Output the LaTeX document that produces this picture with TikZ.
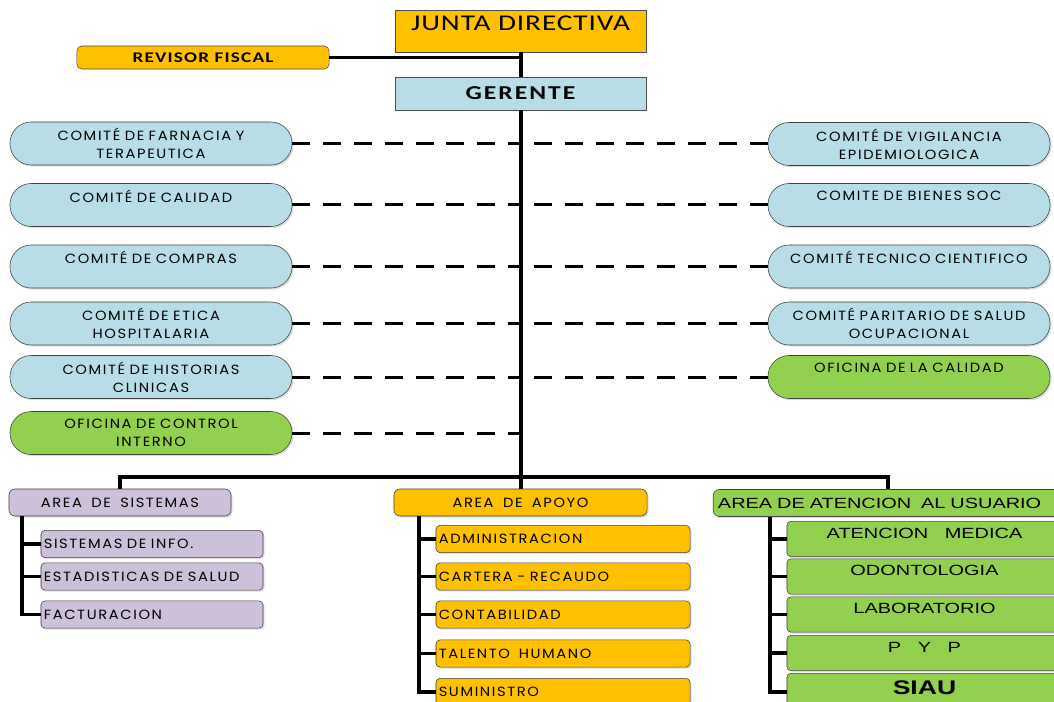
\documentclass[tikz,border=0pt]{standalone}
\usepackage{fontspec}
\setmainfont{Poppins}[FakeStretch=1.1, LetterSpace=12, WordSpace=1.7]
\newfontfamily\arialfont{Liberation Sans}[FakeStretch=1.35]
\newfontfamily\calfont{Carlito}[FakeStretch=1.3]
\usetikzlibrary{shadows}

\definecolor{naranja}{HTML}{FFC000}
\definecolor{celeste}{HTML}{B7DEE8}
\definecolor{verde}{HTML}{92D050}
\definecolor{lila}{HTML}{CCC0DA}

\begin{document}
\begin{tikzpicture}
    [x=0.025cm, y=-0.025cm,
    % Boxes on top
    junta/.style={rectangle, draw=black!70, fill=naranja, minimum width=6.275cm, minimum height=1.05cm, font=\calfont\fontsize{16}{18}\selectfont\addfontfeatures{LetterSpace=4}, text height=0.4cm, text depth=0.4cm},
    gerencia/.style={rectangle, draw=black!70, fill=celeste, minimum width=6.275cm, minimum height=0.825cm, font=\calfont\bfseries\fontsize{14}{16}\selectfont\addfontfeatures{LetterSpace=10}},
    revisor/.style={rectangle, draw=black!70, fill=naranja, rounded corners=0.12cm, minimum width=6.3cm, minimum height=0.575cm, font=\calfont\bfseries\fontsize{10.5}{12}\selectfont\addfontfeatures{LetterSpace=8}},
    % Committees and offices
    comite/.style={rectangle, draw=black!75, fill=celeste, rounded corners=0.53cm, minimum width=7.05cm, minimum height=1.075cm, align=center, text width=6.8cm, font=\fontsize{9.5}{13}\selectfont, drop shadow={opacity=0.25, shadow xshift=0.04cm, shadow yshift=-0.04cm}},
    oficina/.style={comite, fill=verde},
    % Areas
    area/.style={rectangle, draw=black!75, rounded corners=0.15cm, minimum height=0.675cm, font=\fontsize{9.5}{11}\selectfont, drop shadow={opacity=0.25, shadow xshift=0.04cm, shadow yshift=-0.04cm}},
    subarea/.style={area, rounded corners=0.1cm, minimum height=0.68cm, align=left, inner xsep=0.07cm},
    subverde/.style={area, fill=verde, rounded corners=0.1cm, minimum width=6.875cm, minimum height=0.7cm, font=\arialfont\fontsize{10.5}{12}\selectfont, text height=0.3cm, text depth=0.35cm},
    trunk/.style={draw, line width=0.1cm},
    branch/.style={draw, line width=0.09cm},
    dashline/.style={draw, line width=0.075cm, dash pattern=on 0.45cm off 0.32cm}]

    \clip (0,0) rectangle (1054,702);

    % Board, fiscal and manager
    \node [junta] (junta) at (520.5,31) {JUNTA DIRECTIVA};
    \node [revisor] (revisor) at (203,57.5) {REVISOR FISCAL};
    \node [gerencia] (gerente) at (520.5,93.5) {GERENTE};

    % Committees on the left
    \node [comite] (cfarmacia) at (151,143.5) {COMITÉ DE FARNACIA Y\\TERAPEUTICA};
    \node [comite] (ccalidad) at (151,205) {COMITÉ DE CALIDAD\\\mbox{}};
    \node [comite] (ccompras) at (151,266.5) {COMITÉ DE COMPRAS\\\mbox{}};
    \node [comite] (cetica) at (151,323.5) {COMITÉ DE ETICA\\HOSPITALARIA};
    \node [comite] (chistorias) at (151,377) {COMITÉ DE HISTORIAS\\CLINICAS};
    \node [oficina] (ocontrol) at (151,433) {OFICINA DE CONTROL\\INTERNO};

    % Committees on the right
    \node [comite] (cvigilancia) at (909,144) {COMITÉ DE VIGILANCIA\\EPIDEMIOLOGICA};
    \node [comite] (cbienes) at (909,205) {COMITE DE BIENES SOC\\\mbox{}};
    \node [comite] (ctecnico) at (909,266.5) {COMITÉ TECNICO CIENTIFICO\\\mbox{}};
    \node [comite] (cparitario) at (909,323.5) {COMITÉ PARITARIO DE SALUD\\OCUPACIONAL};
    \node [oficina] (ocalidad) at (909,377) {OFICINA DE LA CALIDAD\\\mbox{}};

    % Areas
    \node [area, fill=lila, minimum width=5.55cm] (asistemas) at (120,502.5) {AREA DE SISTEMAS};
    \node [area, fill=naranja, minimum width=6.325cm] (aapoyo) at (520.5,502.5) {AREA DE APOYO};
    \node [area, fill=verde, minimum width=8.7cm, align=left, text width=8.5cm, font=\arialfont\fontsize{10.5}{12}\selectfont] (aatencion) at (888,503) {AREA DE ATENCION\ \ AL USUARIO};

    % Sistemas
    \node [subarea, fill=lila, text width=5.41cm] (sinfo) at (152,544) {SISTEMAS DE INFO.};
    \node [subarea, fill=lila, text width=5.41cm] (sestad) at (152,576.5) {ESTADISTICAS DE SALUD};
    \node [subarea, fill=lila, text width=5.41cm] (sfact) at (152,614.5) {FACTURACION};

    % Apoyo
    \node [subarea, fill=naranja, text width=6.21cm] (padmin) at (563,539) {ADMINISTRACION};
    \node [subarea, fill=naranja, text width=6.21cm] (pcartera) at (563,576.5) {CARTERA - RECAUDO};
    \node [subarea, fill=naranja, text width=6.21cm] (pconta) at (563,614.5) {CONTABILIDAD};
    \node [subarea, fill=naranja, text width=6.21cm] (ptalento) at (563,653.5) {TALENTO\ \ HUMANO};
    \node [subarea, fill=naranja, text width=6.21cm] (psumin) at (563,692) {SUMINISTRO};

    % Atencion al usuario
    \node [subverde] (umedica) at (924.5,539) {ATENCION\ \ \ MEDICA};
    \node [subverde] (uodonto) at (924.5,576.5) {ODONTOLOGIA};
    \node [subverde] (ulab) at (924.5,614.5) {LABORATORIO};
    \node [subverde] (upyp) at (924.5,653) {P\ \ \ Y\ \ \ P};
    \node [subverde, font=\arialfont\bfseries\fontsize{14}{16}\selectfont, text height=0.4cm, text depth=0.3cm] (usiau) at (924.5,692) {SIAU};

    % Main lines
    \coordinate (bus) at (519,477);
    \coordinate (sisbar) at (22,516);
    \coordinate (apobar) at (419,516);
    \coordinate (atebar) at (770,517);
    \draw [branch, line width=0.07cm] (revisor.east) -- (revisor.east -| junta.south);
    \draw [trunk] (junta.south) -- (gerente.north);
    \draw [trunk] (gerente.south) -- (aapoyo.north);
    \draw [trunk, line width=0.08cm] (asistemas.north) -- (asistemas.north |- bus) -| (aatencion.north);

    % Dashed links
    \foreach \com in {cfarmacia,ccalidad,ccompras,cetica,chistorias,ocontrol}
        \draw [dashline] (\com.east) -- (\com.east -| gerente.south);
    \foreach \com in {cvigilancia,cbienes,ctecnico,cparitario,ocalidad}
        \draw [dashline] (\com.west) -- (\com.west -| gerente.south);

    % Brackets
    \draw [branch] (sisbar) |- (sfact.west);
    \foreach \sub in {sinfo,sestad}
        \draw [branch] (sisbar |- \sub.west) -- (\sub.west);
    \draw [branch] (apobar) |- (psumin.west);
    \foreach \sub in {padmin,pcartera,pconta,ptalento}
        \draw [branch] (apobar |- \sub.west) -- (\sub.west);
    \draw [branch] (atebar) |- (usiau.west);
    \foreach \sub in {umedica,uodonto,ulab,upyp}
        \draw [branch] (atebar |- \sub.west) -- (\sub.west);
\end{tikzpicture}
\end{document}
